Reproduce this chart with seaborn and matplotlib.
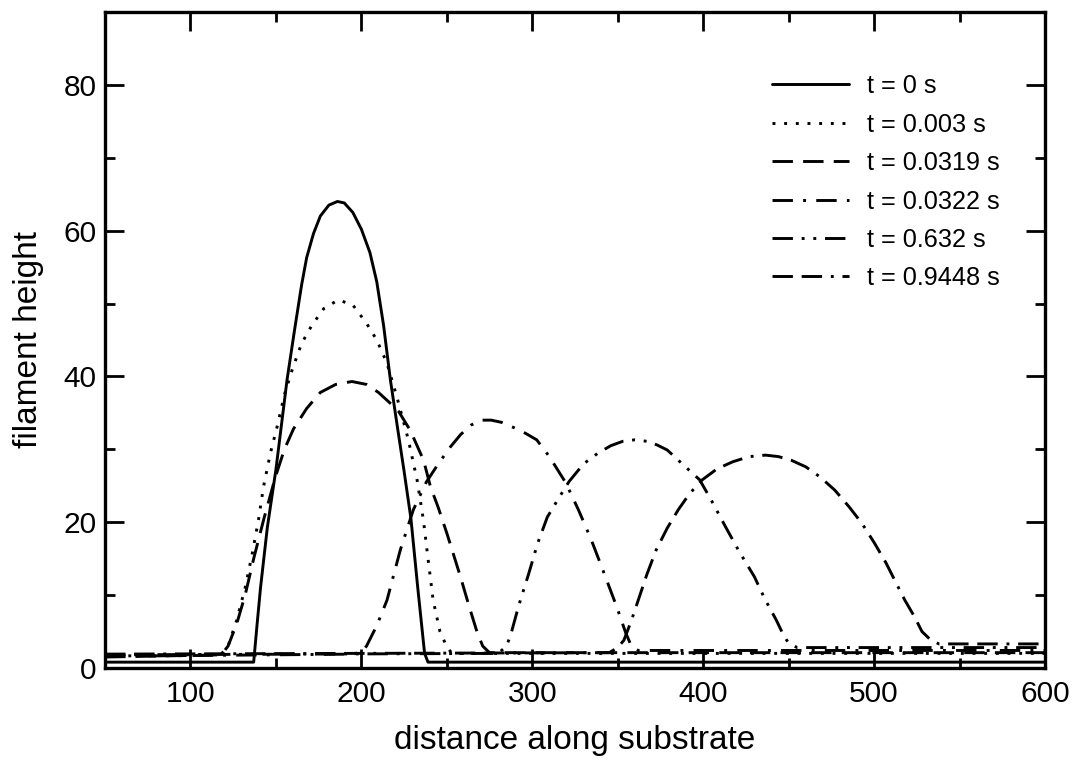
import pandas as pd
import numpy as np
import matplotlib
matplotlib.use("Agg")
import matplotlib.pyplot as plt
from matplotlib.ticker import MultipleLocator
import seaborn as sns

# series labels
labels = ["t = 0 s", "t = 0.003 s", "t = 0.0319 s", "t = 0.0322 s", "t = 0.632 s", "t = 0.9448 s"]

# values
t0_x = [50, 137, 139, 141, 145, 150, 156.5, 161, 165, 168, 172, 176, 181, 186, 190, 195, 200, 205, 209, 213, 217, 221, 225, 229, 233, 237, 239, 600]
t0_y = [0.8, 0.8, 6, 11, 19.3, 27.2, 39.5, 46.5, 52.5, 56.3, 59.6, 62, 63.5, 64, 63.8, 62.5, 60.2, 57, 53, 47, 39.5, 33.2, 27, 20.5, 11, 2, 0.8, 0.8]

t1_x = [50, 118, 122, 127, 132, 136, 139.8, 142.7, 146.8, 150.6, 155, 159.5, 165, 171, 178, 186.5, 195, 203, 209, 215, 221, 227.5, 232.6, 236.3, 239, 242, 246, 250, 253, 600]
t1_y = [1.6, 1.9, 3, 6.5, 11, 15.5, 20.3, 24.8, 29.5, 33, 37.5, 40.9, 44.5, 47, 49.3, 50.5, 49.8, 47.3, 45, 41.8, 37, 31.3, 25.8, 20.3, 15, 9.3, 5, 2.9, 2, 2]

t2_x = [50, 118, 122, 127, 132, 137, 143, 149.7, 155, 160.3, 168, 176, 185, 194.5, 203, 210, 217, 221.8, 228.6, 236.4, 240.4, 245, 250, 254, 258, 263, 267.6, 271, 275, 600]
t2_y = [1.5, 1.8, 3, 6, 10, 15, 20.5, 26.2, 30, 32.8, 35.6, 37.8, 38.9, 39.3, 38.9, 37.8, 36.3, 35.2, 32.6, 28.5, 24.9, 22, 18.5, 15.5, 12.5, 8.5, 5, 3, 2.1, 2.1]

t3_x = [50, 195, 200, 203, 209, 215, 222.8, 230.4, 238, 245, 252, 258, 264, 270, 276, 282, 289, 296, 302.6, 310, 319.6, 327, 334.5, 342, 349.4, 354.7, 358, 362, 600]
t3_y = [1.6, 1.9, 2.2, 3, 5.8, 9.3, 16.2, 21.7, 25.5, 28, 30.3, 32, 33.3, 34, 34, 33.7, 33, 32.2, 31.3, 29, 25.4, 21.7, 17.6, 13, 8.4, 4.8, 3, 2.4, 2.4]

t4_x = [50, 280, 285, 287.7, 292, 298, 303, 308.8, 316, 321.6, 330, 338.6, 346, 353, 360, 367, 373, 379, 385, 391, 398, 405, 413, 421, 430, 436, 442.7, 447, 450, 455, 600]
t4_y = [1.8, 2, 3, 4.8, 8.5, 13, 17, 20.7, 23.5, 25.6, 28, 29.5, 30.5, 31.1, 31.3, 31.1, 30.6, 29.9, 28.6, 27.3, 25.8, 22.9, 19.4, 16, 12.5, 9.5, 6.6, 4.5, 3.4, 2.8, 2.8]

t5_x = [50, 345, 350, 353.6, 358, 362, 367, 372.5, 379, 385.4, 392, 399.4, 408, 417.4, 427, 436.5, 444, 451.5, 460, 468.4, 477, 485.4, 493, 500.3, 507, 513, 518, 523.7, 528, 533.3, 538, 600]
t5_y = [1.9, 2.1, 2.8, 3.8, 6.5, 9.3, 12.8, 16.2, 19.2, 21.7, 23.9, 25.8, 27.3, 28.3, 29, 29.2, 29, 28.5, 27.6, 26.2, 24.4, 22.1, 19.8, 17.1, 14.4, 11.6, 9.3, 7, 5, 3.8, 3.3, 3.3]

xs = [t0_x, t1_x, t2_x, t3_x, t4_x, t5_x]
ys = [t0_y, t1_y, t2_y, t3_y, t4_y, t5_y]

df = pd.concat([pd.DataFrame({"x": x, "y": y, "t": lab}) for x, y, lab in zip(xs, ys, labels)],
               ignore_index=True)

# line styles
dashes = {
    "t = 0 s": "",
    "t = 0.003 s": (1, 3),
    "t = 0.0319 s": (7, 3.5),
    "t = 0.0322 s": (7, 3.5, 1, 3.5),
    "t = 0.632 s": (7, 3, 1, 3, 1, 3),
    "t = 0.9448 s": (7, 3, 7, 3, 1, 3),
}

sns.set_style("ticks")
plt.rcParams['font.family'] = ['Liberation Sans', 'DejaVu Sans']
plt.rcParams['text.color'] = 'black'
plt.rcParams['axes.labelcolor'] = 'black'
plt.rcParams['xtick.color'] = 'black'
plt.rcParams['ytick.color'] = 'black'

fig = plt.figure(figsize=(10.79, 7.62), dpi=100)
ax = fig.add_axes([0.0973, 0.1234, 0.9685 - 0.0973, 0.9843 - 0.1234])

sns.lineplot(data=df, x="x", y="y", hue="t", style="t", hue_order=labels, style_order=labels,
             palette=["black"] * 6, dashes=dashes, linewidth=2.1, estimator=None, sort=False, ax=ax)

ax.set_xlim(50, 600)
ax.set_ylim(0, 90)
ax.xaxis.set_major_locator(MultipleLocator(100))
ax.xaxis.set_minor_locator(MultipleLocator(50))
ax.yaxis.set_major_locator(MultipleLocator(20))
ax.yaxis.set_minor_locator(MultipleLocator(10))
ax.tick_params(which="both", direction="in", top=True, right=True, width=2, color="black")
ax.tick_params(which="major", length=14, labelsize=21.5, labelcolor="black")
ax.tick_params(which="minor", length=7)
ax.tick_params(axis="x", which="major", pad=9)
ax.tick_params(axis="y", which="major", pad=6)
for s in ax.spines.values():
    s.set_linewidth(2.4)
    s.set_color("black")

ax.set_xlabel("distance along substrate", fontsize=24, labelpad=12, color="black")
ax.set_ylabel("filament height", fontsize=24, labelpad=14, color="black")

handles, labs = ax.get_legend_handles_labels()
for h in handles:
    h.set_linewidth(2.1)
ax.legend(handles, labs, frameon=False, loc="upper left", bbox_to_anchor=(0.7096, 0.905),
          borderpad=0, borderaxespad=0, fontsize=18.2, handlelength=3.05, handletextpad=0.7,
          labelspacing=0.57)

plt.savefig("out.png", dpi=100)
